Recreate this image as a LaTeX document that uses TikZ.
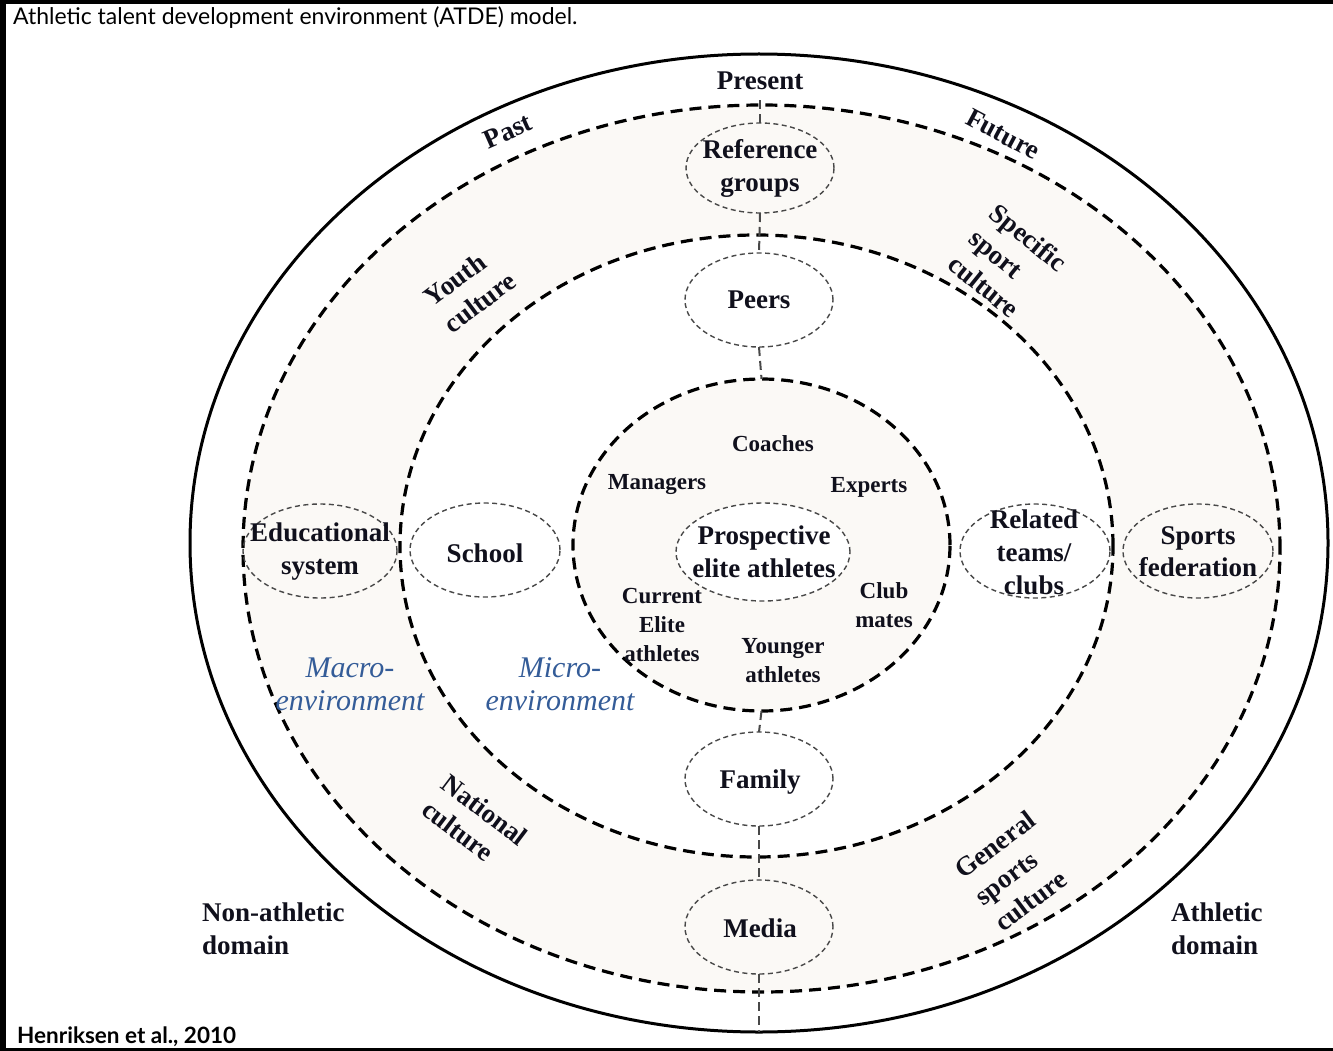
\documentclass[tikz,border=0pt]{standalone}
\usepackage{fontspec}
\setmainfont{Liberation Serif}
\newfontfamily\capfont{Lato}
\usetikzlibrary{shapes.geometric}
\definecolor{ink}{RGB}{16,16,28}
\definecolor{envblue}{RGB}{52,92,152}
\definecolor{band}{RGB}{251,249,246}
\definecolor{bubblegray}{RGB}{72,72,72}
\begin{document}
\begin{tikzpicture}[x=1pt,y=-1pt,
  lbl/.style={font=\bfseries\fontsize{27}{33}\selectfont, text=ink, align=center, inner sep=0pt},
  smalllbl/.style={font=\bfseries\fontsize{23}{29}\selectfont, text=ink, align=center, inner sep=0pt},
  envlbl/.style={font=\itshape\fontsize{30}{33}\selectfont, text=envblue, align=center, inner sep=0pt},
  ring/.style={ellipse, draw=black, line width=3.2pt, dash pattern=on 12pt off 7pt, inner sep=0pt, outer sep=0pt},
  bubble/.style={ellipse, draw=bubblegray, line width=1.4pt, dash pattern=on 5pt off 3.5pt, inner sep=0pt, outer sep=0pt, minimum width=148pt, minimum height=94pt},
  link/.style={draw=bubblegray, line width=2pt, dash pattern=on 9pt off 5pt}]
\useasboundingbox (0,0) rectangle (1333,1051);
\fill[white] (0,0) rectangle (1333,1051);
% frame edges
\fill[black] (0,0) rectangle (6,1051);
\fill[black] (0,0) rectangle (1333,4);
\fill[black] (0,1048) rectangle (1333,1051);

% rings, outermost first
\node[ellipse, draw=black, line width=3pt, inner sep=0pt, outer sep=0pt,
      minimum width=1138pt, minimum height=978pt] (outer) at (759,543) {};
\node[ring, fill=band, minimum width=1037pt, minimum height=887pt] (macro) at (761.5,548.5) {};
\node[ring, fill=white, minimum width=713pt, minimum height=622pt] (micro) at (756.5,546) {};
\node[ring, fill=band, minimum width=377pt, minimum height=332pt] (core) at (761.5,545) {};

% dashed bubbles
\node[bubble, fill=white, minimum width=174pt, minimum height=98pt] (prosp) at (763,552) {};
\node[bubble, minimum height=90pt] (ref) at (760,168) {};
\node[bubble] (peers) at (759,300) {};
\node[bubble] (family) at (759,779) {};
\node[bubble] (media) at (759,927) {};
\node[bubble, minimum width=154pt] (edu) at (320,551) {};
\node[bubble, minimum width=150pt] (school) at (485,550) {};
\node[bubble, minimum width=150pt] (related) at (1035,551) {};
\node[bubble, minimum width=150pt] (fed) at (1198,551) {};

% vertical links along the axis
\coordinate (presenttick) at (760,97);
\draw[link] (ref.north) -- (presenttick);
\draw[link] (ref.south) -- (peers.north);
\draw[link] (peers.south) -- (core.north);
\draw[link] (core.south) -- (family.north);
\draw[link] (family.south) -- (media.north);
\draw[link] (media.south) -- (outer.south);

% caption and source
\node[font=\capfont\fontsize{23}{27}\selectfont, anchor=west, inner sep=0pt] (title) at (13,18)
  {Athletic talent development environment (ATDE) model.};
\node[font=\capfont\bfseries\fontsize{22.5}{26}\selectfont, anchor=west, inner sep=0pt] (source) at (17,1037)
  {Henriksen et al., 2010};

% time labels
\node[lbl] (present) at (760,81) {Present};
\node[lbl, rotate=24] (past) at (508,131) {Past};
\node[lbl, rotate=-28] (future) at (1003,134) {Future};

% bubble labels
\node[lbl] (reft) at (ref) {Reference\\groups};
\node[lbl] (peerst) at (peers) {Peers};
\node[lbl] (familyt) at (760,782) {Family};
\node[lbl] (mediat) at (760,928) {Media};
\node[lbl] (edut) at (320,552) {Educational\\system};
\node[lbl] (schoolt) at (485,553) {School};
\node[lbl] (prospt) at (764,552) {Prospective\\elite athletes};
\node[lbl] (relatedt) at (1034,552) {Related\\teams/\\clubs};
\node[lbl, font=\bfseries\fontsize{27}{32}\selectfont] (fedt) at (1198,552) {Sports\\federation};

% culture labels in the macro band
\node[lbl, align=left, rotate=37] (youth) at (470,289) {Youth\\culture};
\node[lbl, align=left, rotate=-39] (specific) at (1008,263) {Specific\\sport\\culture};
\node[lbl, align=left, rotate=-37] (national) at (475,823) {National\\culture};
\node[lbl, align=left, rotate=37] (general) at (1015,871) {General\\sports\\culture};

% environment labels
\node[envlbl] (macrot) at (350,684) {Macro-\\environment};
\node[envlbl] (microt) at (560,684) {Micro-\\environment};

% people in the core
\node[smalllbl] (coaches) at (773,444) {Coaches};
\node[smalllbl] (managers) at (657,485) {Managers};
\node[smalllbl] (experts) at (869,487) {Experts};
\node[smalllbl] (current) at (662,625) {Current\\Elite\\athletes};
\node[smalllbl] (club) at (884,605) {Club\\mates};
\node[smalllbl] (younger) at (783,661) {Younger\\athletes};

% domains
\node[lbl, align=left, anchor=west] (nonath) at (202,929) {Non-athletic\\domain};
\node[lbl, align=left, anchor=west] (ath) at (1171,929) {Athletic\\domain};
\end{tikzpicture}
\end{document}
